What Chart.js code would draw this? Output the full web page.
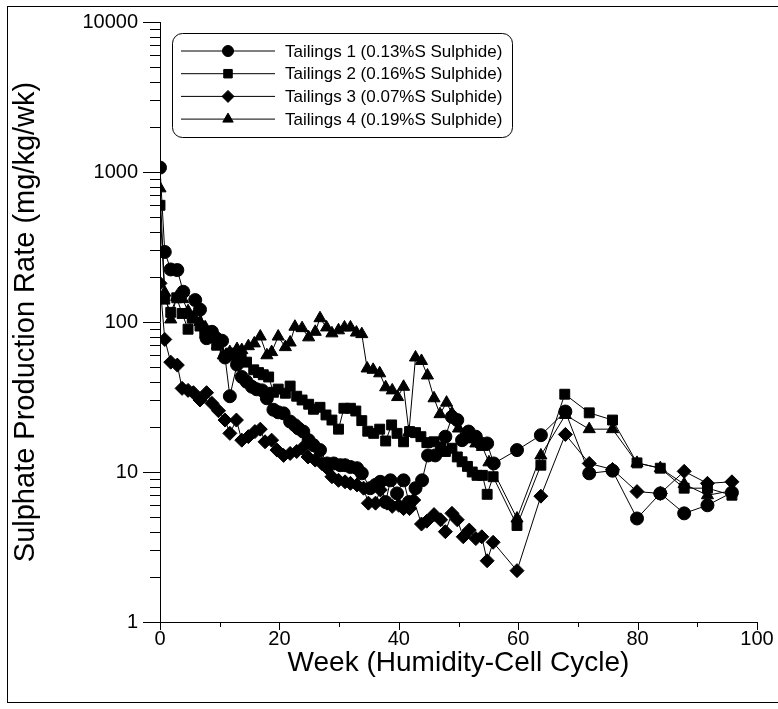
<!DOCTYPE html>
<html>
<head>
<meta charset="utf-8">
<script src="https://cdn.jsdelivr.net/npm/chart.js@4.4.0/dist/chart.umd.min.js"></script>
<style>
  html, body { margin: 0; padding: 0; background: #fff; }
</style>
</head>
<body>
<canvas id="myChart" width="778" height="709"></canvas>
<script>
// values (week, mg/kg/wk)
const weeks1 = [0, 0.8, 1.8, 2.9, 3.9, 5.9, 6.7, 7.8, 8.7, 9.4, 10.4, 10.9, 11.7, 12.9, 13.7, 14.5, 15.4, 16.2, 17.1, 17.9,
  19, 19.8, 20.7, 21.8, 22.6, 23.2, 24, 24.9, 25.7, 26.8, 28, 29.1, 30.2, 31, 31.9, 33, 33.8, 35.2, 36.1, 36.9,
  37.8, 38.6, 39.7, 40.8, 41.7, 42.8, 43.9, 44.9, 46.1, 47.8, 48.9, 49.8, 50.6, 51.7, 52.9, 53.7, 54.8, 55.9,
  59.8, 63.8, 67.9, 71.9, 75.8, 79.9, 83.8, 87.8, 91.7, 95.8];
const rate1 = [1070, 293, 224, 222, 159, 140, 121, 78, 86, 78, 75, 58, 32, 52, 43, 40, 37, 35.6, 35, 31,
  26, 25, 24.6, 21.7, 20.5, 19.5, 18.6, 16.3, 15.1, 14, 11.4, 11.4, 11.1, 11.1, 10.8, 10.6, 9.8, 7.8, 8.2, 8.6,
  6.3, 8.8, 7.2, 8.8, 6.3, 7.8, 8.8, 12.9, 12.9, 17.2, 23.3, 22.2, 16.3, 18.6, 17.2, 15.5, 15.5, 11.4,
  14, 17.6, 25.3, 9.8, 10.2, 4.9, 7.2, 5.3, 6, 7.3];

const weeks2 = [0, 0.8, 1.8, 2.8, 3.7, 4.7, 5.4, 6.7, 7.5, 8.4, 9.5, 10.9, 11.8, 12.7, 13.6, 14.5, 15.7, 16.5, 17.3, 18.2,
  19, 19.8, 21, 21.8, 22.9, 23.8, 24.9, 25.7, 26.8, 27.8, 28.8, 29.9, 30.8, 31.9, 32.8, 33.8, 34.8, 35.8, 36.8, 37.8,
  38.8, 39.7, 40.8, 41.8, 42.8, 43.7, 44.7, 45.9, 47, 47.8, 48.9, 49.8, 50.6, 51.5, 52.3, 53.1, 54, 54.8, 55.8,
  59.8, 63.8, 67.8, 71.9, 75.8, 79.9, 83.8, 87.8, 91.7, 95.8];
const rate2 = [600, 142, 116, 145, 114, 89.5, 106, 94, 84, 80, 70, 59, 62, 60, 58, 54, 48, 46, 44.5, 43,
  34, 35.7, 33.5, 37.4, 32, 30.2, 28.3, 26.2, 27, 24, 22.2, 19.3, 26.6, 26.6, 25.5, 22, 18.7, 18.1, 19.3, 16.1,
  20.6, 18.1, 15.9, 18.6, 18.3, 17.2, 15.7, 15.9, 14.7, 13.7, 14.4, 12.6, 11.7, 10.9, 10, 9.5, 9.5, 7.1, 9.3,
  4.4, 11.1, 33, 24.8, 22.2, 11.5, 10.6, 7.8, 7.8, 7];

const weeks3 = [0, 0.8, 1.8, 2.9, 3.7, 4.7, 5.6, 6.7, 7.8, 8.7, 9.8, 10.9, 11.7, 12.8, 13.7, 14.8, 15.9, 16.8, 17.6, 18.7,
  19.6, 20.7, 21.8, 22.9, 23.8, 24.8, 26, 27.1, 28, 28.8, 29.9, 31, 31.9, 33, 34.1, 34.9, 36.1, 36.9, 38, 38.9,
  40, 40.8, 41.8, 42.5, 43.8, 44.7, 45.9, 47, 47.8, 48.9, 49.8, 50.8, 51.8, 52.9, 53.9, 54.8, 55.8,
  59.8, 63.8, 67.9, 71.9, 75.8, 79.9, 83.8, 87.8, 91.7, 95.8];
const rate3 = [181, 76.5, 54, 51.6, 36.1, 35, 33.8, 30.2, 33.8, 28.7, 25.6, 22.2, 18.1, 22.2, 16.3, 17.2, 18.6, 19.3, 15.9, 16.3,
  14, 12.9, 13.3, 13.7, 14.4, 12.6, 12, 11.4, 10.6, 9.3, 8.8, 8.6, 8.4, 8.2, 7.8, 6.2, 6.2, 7.6, 6.2, 5.9,
  6, 5.7, 5.7, 6.5, 4.5, 4.7, 5.2, 4.8, 4, 5.3, 4.8, 3.7, 4.1, 3.6, 3.7, 2.56, 3.4,
  2.2, 6.9, 17.8, 11.4, 10.4, 7.4, 7.2, 10.1, 8.4, 8.6];

const weeks4 = [0, 0.8, 1.8, 2.8, 3.8, 4.7, 5.6, 6.7, 7.6, 8.6, 9.6, 10.6, 11.7, 12.9, 13.7, 14.8, 15.8, 16.8, 17.9, 18.7,
  19.8, 21, 21.8, 22.6, 23.8, 24.9, 26, 26.8, 27.9, 28.8, 29.9, 30.9, 31.9, 32.9, 33.8, 34.7, 35.7, 36.8, 37.8, 38.9,
  39.8, 40.8, 41.7, 42.8, 43.8, 44.8, 45.9, 46.9, 48, 48.9, 50, 50.9, 51.9, 52.9, 54, 55.1,
  59.8, 63.8, 67.9, 71.9, 75.8, 79.9, 83.8, 87.8, 91.7, 95.8];
const rate4 = [778, 157, 104, 147, 142, 118, 108, 100, 92, 85, 70, 60, 63, 66, 65, 69, 72, 80, 60, 63,
  80, 68, 73, 93, 91, 79, 86, 106, 92, 84, 88, 92, 92, 85, 83, 49, 48, 45.5, 36.7, 35,
  31.6, 37, 18.5, 58, 55, 44, 31, 24.3, 29, 24.6, 19.5, 17.2, 16.5, 15.5, 14.7, 11.6,
  4.9, 12.9, 24, 19.3, 19.3, 11.5, 10.6, 8.3, 7, 7.5];

const seriesLabels = [
  'Tailings 1 (0.13%S Sulphide)',
  'Tailings 2 (0.16%S Sulphide)',
  'Tailings 3 (0.07%S Sulphide)',
  'Tailings 4 (0.19%S Sulphide)'
];
const xTickValues = [0, 10, 20, 30, 40, 50, 60, 70, 80, 90, 100];
const xLabelValues = [0, 20, 40, 60, 80, 100];
const yDecades = [1, 10, 100, 1000, 10000];
const yMinorSteps = [2, 3, 4, 5, 6, 7, 8, 9];

const fontFamily = "'Liberation Sans', Arial, sans-serif";

function toPoints(weeks, rates) {
  return weeks.map((w, i) => ({ x: w, y: rates[i] }));
}

function makeSet(label, weeks, rates, style, radius) {
  return {
    label: label,
    data: toPoints(weeks, rates),
    borderColor: '#000',
    backgroundColor: '#000',
    borderWidth: 1,
    pointStyle: style,
    pointRadius: radius,
    pointBorderWidth: 1,
    pointBorderColor: '#000',
    pointBackgroundColor: '#000',
    tension: 0,
    fill: false
  };
}

// tick marks, legend box and the outer frame
const decorPlugin = {
  id: 'decor',
  afterDraw(chart) {
    const ctx = chart.ctx;
    const xs = chart.scales.x, ys = chart.scales.y;
    const area = chart.chartArea;
    ctx.save();
    ctx.strokeStyle = '#000';
    ctx.lineWidth = 1;
    ctx.beginPath();
    // y ticks
    yDecades.forEach((d, i) => {
      const py = Math.round(ys.getPixelForValue(d)) + 0.5;
      ctx.moveTo(area.left - 17, py); ctx.lineTo(area.left, py);
      if (i < yDecades.length - 1) {
        yMinorSteps.forEach(m => {
          const p = Math.round(ys.getPixelForValue(d * m)) + 0.5;
          ctx.moveTo(area.left - 10, p); ctx.lineTo(area.left, p);
        });
      }
    });
    // x ticks
    xTickValues.forEach(v => {
      const px = Math.round(xs.getPixelForValue(v)) + 0.5;
      const len = xLabelValues.includes(v) ? 8 : 5;
      ctx.moveTo(px, area.bottom); ctx.lineTo(px, area.bottom + len);
    });
    ctx.stroke();

    // frame
    ctx.strokeRect(7.5, 6.5, 820, 696);

    // legend
    const lx = 172.5, ly = 33.5, lw = 340, lh = 104;
    ctx.beginPath();
    ctx.roundRect(lx, ly, lw, lh, 10);
    ctx.fillStyle = '#fff';
    ctx.fill();
    ctx.stroke();
    ctx.font = '17px ' + fontFamily;
    ctx.textBaseline = 'middle';
    ctx.textAlign = 'left';
    chart.data.datasets.forEach((ds, i) => {
      const ry = 51 + i * 22.7;
      ctx.beginPath();
      ctx.moveTo(181, ry); ctx.lineTo(275, ry);
      ctx.stroke();
      ctx.fillStyle = '#000';
      Chart.helpers.drawPoint(ctx, { pointStyle: ds.pointStyle, radius: ds.pointRadius - 1, rotation: 0, borderWidth: 1 }, 228, ry);
      ctx.fillStyle = '#000';
      ctx.fillText(ds.label, 285, ry + 1);
    });
    ctx.restore();
  }
};

const ctx = document.getElementById('myChart').getContext('2d');
const config = {
  type: 'line',
  data: {
    datasets: [
      makeSet(seriesLabels[0], weeks1, rate1, 'circle', 6.5),
      makeSet(seriesLabels[1], weeks2, rate2, 'rect', 7),
      makeSet(seriesLabels[2], weeks3, rate3, 'rectRot', 7),
      makeSet(seriesLabels[3], weeks4, rate4, 'triangle', 7)
    ]
  },
  options: {
    responsive: false,
    animation: false,
    layout: { padding: { top: 22, right: 21, left: 0, bottom: 0 } },
    plugins: { legend: { display: false }, tooltip: { enabled: false } },
    scales: {
      x: {
        type: 'linear',
        min: 0,
        max: 100,
        border: { color: '#000', width: 1 },
        grid: { drawOnChartArea: false, drawTicks: true, tickLength: 3, color: 'rgba(0,0,0,0)' },
        ticks: {
          stepSize: 20,
          autoSkip: false,
          maxRotation: 0,
          padding: 2,
          color: '#000',
          font: { family: fontFamily, size: 20 }
        },
        title: {
          display: true,
          text: 'Week (Humidity-Cell Cycle)',
          color: '#000',
          font: { family: fontFamily, size: 28 },
          padding: { top: 0, bottom: 29 }
        },
        afterFit: s => { s.height = 87; }
      },
      y: {
        type: 'logarithmic',
        min: 1,
        max: 10000,
        border: { color: '#000', width: 1 },
        grid: { drawOnChartArea: false, drawTicks: true, tickLength: 17, color: 'rgba(0,0,0,0)' },
        ticks: {
          autoSkip: false,
          padding: 5,
          color: '#000',
          font: { family: fontFamily, size: 20 },
          callback: v => {
            const lg = Math.log10(v);
            return Math.abs(lg - Math.round(lg)) < 1e-9 && yDecades.includes(Math.round(v)) ? String(Math.round(v)) : '';
          }
        },
        title: {
          display: true,
          text: 'Sulphate Production Rate (mg/kg/wk)',
          color: '#000',
          font: { family: fontFamily, size: 29 },
          padding: { top: 9, bottom: 0 }
        },
        afterFit: s => { s.width = 160; }
      }
    }
  },
  plugins: [decorPlugin]
};

const chart = new Chart(ctx, config);
</script>
</body>
</html>
